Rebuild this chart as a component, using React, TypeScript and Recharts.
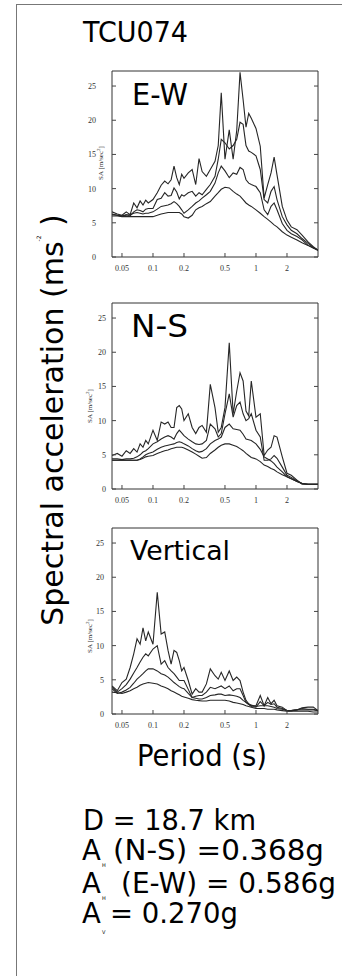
import { LineChart, Line, XAxis, YAxis } from "recharts";

// periods (s) shared by all spectra
const periods = [
  0.04, 0.045, 0.05, 0.055, 0.06, 0.065, 0.07, 0.075, 0.08, 0.085,
  0.09, 0.1, 0.11, 0.12, 0.13, 0.14, 0.15, 0.16, 0.17, 0.18,
  0.19, 0.2, 0.22, 0.24, 0.26, 0.28, 0.3, 0.33, 0.36, 0.4,
  0.43, 0.46, 0.5, 0.55, 0.6, 0.65, 0.7, 0.75, 0.8, 0.85,
  0.9, 1.0, 1.1, 1.2, 1.3, 1.4, 1.5, 1.6, 1.8, 2.0,
  2.2, 2.5, 2.8, 3.2, 3.6, 4.0,
];

// E-W, four damping levels (most jagged first)
const ewD2 = [
  6.6, 6.3, 6.1, 6.6, 6.2, 7.9, 7.2, 8.2, 7.6, 8.3,
  7.9, 8.4, 9.4, 10.5, 11.1, 10.7, 11.3, 13.3, 11.6, 10.6,
  12.1, 11.5, 12.3, 12.8, 10.6, 14.4, 12.5, 11.8, 12.8, 14.0,
  16.3, 24.0, 14.3, 18.6, 14.3, 18.5, 27.0, 23.0, 19.0, 21.0,
  20.3, 18.8, 16.2, 8.6, 10.6, 12.3, 14.6, 12.0, 7.4, 5.4,
  4.4, 4.0, 3.2, 2.2, 1.5, 1.0,
];
const ewD5 = [
  6.3, 6.1, 6.0, 6.2, 6.0, 6.6, 6.9, 6.8, 6.6, 7.0,
  7.1, 7.1, 8.4, 8.6, 9.4, 8.9, 9.0, 10.1, 9.5, 8.5,
  9.1, 8.9, 9.4, 9.6, 8.9, 9.4, 9.1, 9.9, 10.6, 11.8,
  14.3, 17.2, 16.7, 15.8, 16.3, 17.2, 19.7, 19.4, 16.3, 15.5,
  15.3, 14.8, 12.8, 8.4, 7.9, 9.6, 10.3, 8.4, 5.9, 4.7,
  3.9, 3.4, 2.7, 2.0, 1.4, 1.0,
];
const ewD10 = [
  6.2, 6.1, 6.0, 6.1, 6.2, 6.4, 6.5, 6.4, 6.3, 6.4,
  6.4, 6.6, 7.0, 7.4, 7.5, 7.6, 7.8, 8.1, 7.8, 7.4,
  6.9, 6.4, 6.9, 7.4, 7.9, 8.2, 8.6, 9.1, 9.6, 10.8,
  12.3, 13.3, 12.6, 11.6, 12.3, 12.1, 13.1, 12.8, 11.3, 10.8,
  10.6, 10.3, 9.4, 6.9, 6.2, 7.4, 7.9, 6.9, 4.9, 3.9,
  3.4, 3.0, 2.5, 1.7, 1.3, 1.0,
];
const ewD20 = [
  6.0, 6.0, 5.9, 5.9, 5.9, 5.9, 5.9, 5.9, 5.9, 5.9,
  5.9, 5.9, 6.1, 6.3, 6.4, 6.5, 6.5, 6.5, 6.5, 6.5,
  6.3, 5.9, 5.7, 6.1, 6.9, 7.2, 7.4, 7.8, 8.1, 8.9,
  9.4, 9.9, 10.2, 10.1, 9.6, 9.2, 8.9, 8.4, 7.9, 7.6,
  7.4, 6.9, 6.4, 5.9, 5.5, 5.1, 4.7, 4.4, 3.7, 3.2,
  2.9, 2.5, 2.1, 1.7, 1.3, 1.0,
];

// N-S
const nsD2 = [
  4.9, 5.2, 4.8, 5.6, 5.2, 5.9, 5.4, 6.6, 6.1, 7.1,
  6.6, 8.6, 7.1, 9.8, 9.5, 9.8, 9.0, 9.0, 11.9, 12.2,
  11.7, 10.0, 11.0, 9.0, 8.1, 9.0, 9.3, 8.3, 15.3, 11.9,
  8.3, 9.0, 11.9, 21.4, 11.0, 14.3, 17.0, 15.8, 11.4, 10.7,
  15.8, 10.5, 11.0, 4.9, 5.7, 6.1, 7.8, 7.6, 4.7, 2.3,
  2.0, 1.3, 0.7, 0.7, 0.7, 0.7,
];
const nsD5 = [
  4.4, 4.4, 4.3, 4.4, 4.4, 4.5, 4.7, 5.0, 5.4, 5.6,
  5.9, 6.6, 6.9, 7.3, 7.6, 7.8, 7.6, 7.3, 8.1, 8.6,
  8.2, 7.8, 7.3, 6.9, 6.6, 6.5, 6.6, 7.1, 9.5, 8.8,
  7.6, 8.1, 11.0, 13.9, 10.5, 12.2, 12.7, 11.0, 10.0, 10.3,
  11.0, 8.6, 7.6, 4.2, 4.2, 4.4, 4.9, 4.5, 3.2, 2.0,
  1.7, 1.2, 0.8, 0.7, 0.7, 0.7,
];
const nsD10 = [
  4.2, 4.2, 4.2, 4.2, 4.2, 4.2, 4.2, 4.4, 4.7, 5.0,
  5.2, 5.4, 5.8, 6.1, 6.3, 6.4, 6.5, 6.6, 6.8, 6.9,
  6.8, 6.6, 6.3, 5.9, 5.6, 5.4, 5.5, 5.9, 6.6, 7.1,
  7.3, 7.6, 9.0, 9.5, 8.8, 8.7, 8.6, 8.0, 7.3, 7.2,
  7.1, 6.6, 5.8, 4.7, 4.4, 4.1, 3.7, 3.2, 2.5, 1.8,
  1.5, 1.1, 0.8, 0.7, 0.7, 0.7,
];
const nsD20 = [
  4.2, 4.2, 4.2, 4.2, 4.2, 4.2, 4.2, 4.3, 4.5, 4.7,
  4.8, 4.9, 5.2, 5.4, 5.6, 5.7, 5.9, 6.0, 6.1, 6.1,
  6.1, 6.0, 5.7, 5.4, 5.1, 4.8, 4.5, 4.6, 5.2, 5.7,
  6.1, 6.4, 6.6, 6.6, 6.4, 6.2, 5.9, 5.6, 5.2, 4.9,
  4.6, 4.4, 4.0, 3.5, 3.3, 3.0, 2.8, 2.5, 2.1, 1.8,
  1.5, 1.1, 0.8, 0.7, 0.7, 0.7,
];

// Vertical
const vtD2 = [
  4.1, 3.4, 4.6, 5.1, 6.8, 8.8, 11.0, 10.2, 12.6, 10.7,
  12.0, 10.2, 17.8, 11.7, 12.0, 9.3, 7.3, 9.3, 9.0, 7.8,
  6.3, 6.8, 4.9, 2.9, 3.7, 3.2, 3.2, 4.4, 6.6, 5.6,
  5.1, 6.1, 4.9, 6.3, 4.9, 5.4, 4.9, 3.2, 2.0, 1.5,
  1.2, 1.2, 2.7, 1.2, 2.4, 1.5, 2.0, 1.2, 1.0, 0.5,
  0.5, 0.6, 0.9, 1.0, 1.0, 0.5,
];
const vtD5 = [
  3.9, 3.2, 3.7, 4.3, 5.1, 6.0, 6.8, 7.6, 8.3, 8.8,
  8.5, 9.5, 10.0, 7.3, 7.8, 6.8, 6.3, 5.9, 5.4, 4.9,
  4.9, 4.9, 3.6, 2.4, 2.6, 2.7, 2.7, 3.2, 3.9, 3.7,
  3.9, 4.1, 3.7, 4.1, 3.4, 3.7, 3.7, 2.7, 1.7, 1.4,
  1.1, 1.0, 1.8, 1.2, 1.7, 1.4, 1.5, 1.0, 0.8, 0.5,
  0.5, 0.6, 0.8, 0.7, 0.7, 0.5,
];
const vtD10 = [
  3.7, 3.0, 3.2, 3.5, 3.9, 4.5, 5.1, 5.5, 5.9, 6.3,
  6.6, 6.6, 6.3, 5.9, 5.7, 5.4, 5.0, 4.6, 4.3, 4.0,
  3.8, 3.7, 3.0, 2.4, 2.3, 2.2, 2.2, 2.4, 2.7, 2.8,
  2.9, 2.9, 2.7, 2.8, 2.7, 2.6, 2.4, 2.0, 1.7, 1.4,
  1.3, 1.1, 1.2, 1.2, 1.2, 1.1, 1.0, 0.8, 0.7, 0.5,
  0.5, 0.6, 0.6, 0.6, 0.6, 0.5,
];
const vtD20 = [
  3.2, 3.1, 3.0, 3.2, 3.4, 3.7, 3.9, 4.2, 4.4, 4.5,
  4.6, 4.5, 4.4, 4.1, 3.9, 3.7, 3.4, 3.2, 3.0, 2.8,
  2.6, 2.5, 2.3, 2.1, 2.0, 1.95, 1.9, 1.9, 2.0, 2.0,
  2.0, 2.0, 2.0, 1.9, 1.7, 1.6, 1.5, 1.4, 1.2, 1.1,
  1.0, 0.8, 0.8, 0.8, 0.7, 0.7, 0.7, 0.6, 0.5, 0.4,
  0.4, 0.4, 0.4, 0.4, 0.3, 0.3,
];

const xTicks = [0.05, 0.1, 0.2, 0.5, 1, 2];
const yTicks = [0, 5, 10, 15, 20, 25];
const seriesKeys = ["d2", "d5", "d10", "d20"];

const buildRows = (curves: number[][]) =>
  periods.map((t, i) => ({
    t,
    d2: curves[0][i],
    d5: curves[1][i],
    d10: curves[2][i],
    d20: curves[3][i],
  }));

const panels = [
  { name: "E-W", top: 61, numGap: 16, rows: buildRows([ewD2, ewD5, ewD10, ewD20]) },
  { name: "N-S", top: 293, numGap: 6, rows: buildRows([nsD2, nsD5, nsD10, nsD20]) },
  { name: "Vertical", top: 518, numGap: 8, rows: buildRows([vtD2, vtD5, vtD10, vtD20]) },
];

const LINE = "#262626";
const TICK = "#444";
const SERIF = "'Liberation Serif', 'DejaVu Serif', serif";
const SANS = "'DejaVu Sans', Verdana, sans-serif";

const BottomTick = (p: any) => (
  <g>
    <line x1={p.x} y1={p.y} x2={p.x} y2={p.y - 4} stroke={TICK} />
    <text x={p.x} y={p.y + 14} textAnchor="middle" fontSize={8} fontFamily={SERIF} fill="#333">
      {p.payload.value}
    </text>
  </g>
);
const TopTick = (p: any) => <line x1={p.x} y1={p.y} x2={p.x} y2={p.y + 4} stroke={TICK} />;
const makeLeftTick = (gap: number) => (p: any) => (
  <g>
    <line x1={p.x} y1={p.y} x2={p.x + 4} y2={p.y} stroke={TICK} />
    <text x={p.x - gap} y={p.y + 3} textAnchor="end" fontSize={8} fontFamily={SERIF} fill="#333">
      {p.payload.value}
    </text>
  </g>
);
const RightTick = (p: any) => <line x1={p.x} y1={p.y} x2={p.x - 4} y2={p.y} stroke={TICK} />;

function Panel({ top, rows, numGap }: { top: number; rows: any[]; numGap: number }) {
  return (
    <div style={{ position: "absolute", left: 0, top, width: 342, height: 216 }}>
      <LineChart width={342} height={216} data={rows} margin={{ top: 9, right: 23, left: 0, bottom: 0 }}>
        <XAxis
          dataKey="t"
          type="number"
          scale="log"
          domain={[0.04, 4]}
          allowDataOverflow
          ticks={xTicks}
          interval={0}
          height={20}
          tickSize={0}
          tickMargin={0}
          tickLine={false}
          axisLine={{ stroke: "#333" }}
          tick={BottomTick}
        />
        <XAxis
          xAxisId="top"
          orientation="top"
          type="number"
          scale="log"
          domain={[0.04, 4]}
          allowDataOverflow
          ticks={xTicks}
          interval={0}
          height={1}
          tickSize={0}
          tickMargin={0}
          tickLine={false}
          axisLine={{ stroke: "#333" }}
          tick={TopTick}
        />
        <YAxis
          type="number"
          domain={[0, 27.2]}
          allowDataOverflow
          ticks={yTicks}
          interval={0}
          width={112}
          tickSize={0}
          tickMargin={0}
          tickLine={false}
          axisLine={{ stroke: "#333" }}
          tick={makeLeftTick(numGap)}
        />
        <YAxis
          yAxisId="right"
          orientation="right"
          type="number"
          domain={[0, 27.2]}
          allowDataOverflow
          ticks={yTicks}
          interval={0}
          width={1}
          tickSize={0}
          tickMargin={0}
          tickLine={false}
          axisLine={{ stroke: "#333" }}
          tick={RightTick}
        />
        {seriesKeys.map((k) => (
          <Line
            key={k}
            type="linear"
            dataKey={k}
            stroke={LINE}
            strokeWidth={1.1}
            dot={false}
            isAnimationActive={false}
          />
        ))}
      </LineChart>
    </div>
  );
}

const saLabels = [
  { x: 103, y: 163 },
  { x: 92, y: 406 },
  { x: 92, y: 636 },
];
const panelLabels = [
  { text: "E-W", x: 132, y: 105, size: 31, len: 56 },
  { text: "N-S", x: 131, y: 337, size: 32, len: 57 },
  { text: "Vertical", x: 130, y: 560, size: 27, len: 100 },
];

export default function App() {
  return (
    <div
      style={{
        position: "absolute",
        left: 0,
        top: 0,
        width: 342,
        height: 976,
        background: "#fff",
        overflow: "hidden",
      }}
    >
      {panels.map((p) => (
        <Panel key={p.name} top={p.top} rows={p.rows} numGap={p.numGap} />
      ))}
      <svg
        width={342}
        height={976}
        style={{ position: "absolute", left: 0, top: 0, pointerEvents: "none" }}
      >
        <line x1={16.5} y1={4} x2={16.5} y2={976} stroke="#777" />
        <line x1={16} y1={4.5} x2={342} y2={4.5} stroke="#777" />

        <text x={83} y={42} fontSize={29} fontFamily={SANS} fill="#000" textLength={105} lengthAdjust="spacingAndGlyphs">
          TCU074
        </text>

        {panelLabels.map((l) => (
          <text
            key={l.text}
            x={l.x}
            y={l.y}
            fontSize={l.size}
            fontFamily={SANS}
            fill="#000"
            textLength={l.len}
            lengthAdjust="spacingAndGlyphs"
          >
            {l.text}
          </text>
        ))}

        {saLabels.map((s, i) => (
          <text
            key={i}
            transform={`translate(${s.x},${s.y}) rotate(-90)`}
            textAnchor="middle"
            fontSize={7}
            fontFamily={SERIF}
            fill="#333"
          >
            SA [m/sec<tspan fontSize={5} dy={-3}>2</tspan>
            <tspan dy={3}>]</tspan>
          </text>
        ))}

        <text
          transform="translate(63,420) rotate(-90)"
          textAnchor="middle"
          fontSize={30}
          fontFamily={SANS}
          fill="#000"
        >
          Spectral acceleration (ms
          <tspan fontSize={6} dy={-22}>-2</tspan>
          <tspan dy={22}> )</tspan>
        </text>

        <text x={137} y={766} fontSize={30} fontFamily={SANS} fill="#000" textLength={130} lengthAdjust="spacingAndGlyphs">
          Period (s)
        </text>

        <g fontFamily={SANS} fill="#000">
          <text x={83} y={830} fontSize={27.5} textLength={173} lengthAdjust="spacingAndGlyphs">
            D = 18.7 km
          </text>
          <text x={82} y={860} fontSize={27.5}>A</text>
          <text x={102} y={867} fontSize={5}>H</text>
          <text x={113} y={860} fontSize={27.5} textLength={211} lengthAdjust="spacingAndGlyphs">
            (N-S) =0.368g
          </text>
          <text x={82} y={893} fontSize={27.5}>A</text>
          <text x={102} y={900} fontSize={5}>H</text>
          <text x={121} y={893} fontSize={27.5} textLength={215} lengthAdjust="spacingAndGlyphs">
            (E-W) = 0.586g
          </text>
          <text x={82} y={923} fontSize={27.5}>A</text>
          <text x={102} y={934} fontSize={5}>V</text>
          <text x={110} y={923} fontSize={27.5} textLength={128} lengthAdjust="spacingAndGlyphs">
            = 0.270g
          </text>
        </g>
      </svg>
    </div>
  );
}
